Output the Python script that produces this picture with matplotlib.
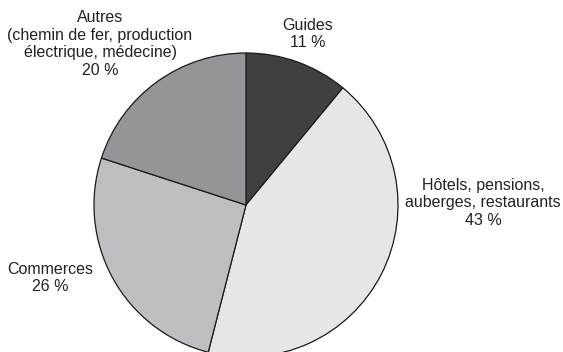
import numpy as np
import matplotlib.pyplot as plt

plt.rcParams['font.family'] = ['Liberation Sans', 'DejaVu Sans']

# Données
categories = ['Guides', 'Hôtels, pensions,\nauberges, restaurants', 'Commerces',
              'Autres\n(chemin de fer, production\nélectrique, médecine)']
parts = [11, 43, 26, 20]
colors = ['#404040', '#e6e6e8', '#bebfc3', '#949598']

# Positions des étiquettes (pixels, origine en bas à gauche)
label_pos = [(308, 318), (483, 149), (50, 74), (100, 308)]

fig = plt.figure(figsize=(5.63, 3.52), dpi=100)
ax = fig.add_axes([0, 0, 1, 1])

ax.pie(parts, colors=colors, startangle=90, counterclock=False,
       center=(246, 147), radius=152,
       wedgeprops=dict(edgecolor='#1a1a1a', linewidth=0.9))

for cat, p, (x, y) in zip(categories, parts, label_pos):
    ax.text(x, y, f"{cat}\n{p} %", ha='center', va='center', fontsize=11.5,
            color='#222222', linespacing=1.22)

ax.set_xlim(0, 563)
ax.set_ylim(0, 352)
ax.set_aspect('equal')
ax.axis('off')

fig.savefig('out.png', dpi=100)
